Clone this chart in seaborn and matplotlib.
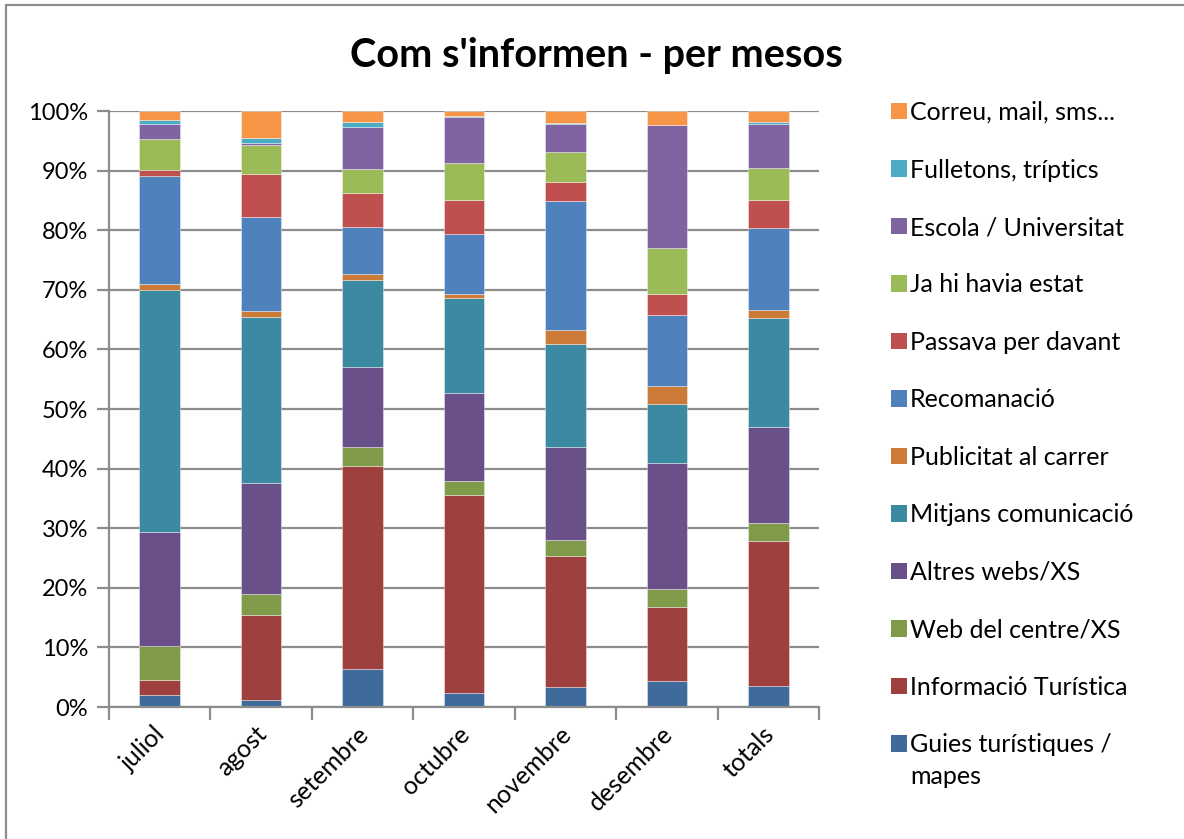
import numpy as np
import pandas as pd
import matplotlib
matplotlib.use("Agg")
import matplotlib.pyplot as plt
import matplotlib.transforms as mtransforms
import seaborn as sns
from matplotlib.patches import Rectangle, Patch
from matplotlib.ticker import FixedLocator, FuncFormatter

months = ["juliol", "agost", "setembre", "octubre", "novembre", "desembre", "totals"]

series_names = [
    "Guies turístiques /\nmapes",
    "Informació Turística",
    "Web del centre/XS",
    "Altres webs/XS",
    "Mitjans comunicació",
    "Publicitat al carrer",
    "Recomanació",
    "Passava per davant",
    "Ja hi havia estat",
    "Escola / Universitat",
    "Fulletons, tríptics",
    "Correu, mail, sms...",
]

guies = [2.0, 1.2, 6.3, 2.4, 3.3, 4.3, 3.5]
informacio = [2.6, 14.2, 34.2, 33.3, 22.1, 12.5, 24.4]
web_centre = [5.6, 3.5, 3.1, 2.3, 2.6, 3.0, 2.9]
altres_webs = [19.2, 18.6, 13.4, 14.8, 15.6, 21.1, 16.1]
mitjans = [40.6, 27.9, 14.6, 15.9, 17.4, 9.9, 18.3]
publicitat = [1.0, 0.9, 1.1, 0.8, 2.3, 3.0, 1.4]
recomanacio = [18.1, 15.9, 7.9, 10.0, 21.7, 11.9, 13.8]
passava = [1.1, 7.1, 5.6, 5.7, 3.2, 3.6, 4.6]
ja_hi_havia = [5.2, 4.9, 4.1, 6.3, 5.0, 7.7, 5.4]
escola = [2.6, 0.3, 7.0, 7.7, 4.7, 20.6, 7.3]
fulletons = [0.6, 0.9, 0.9, 0.2, 0.2, 0.0, 0.4]
correu = [1.5, 4.5, 1.8, 0.8, 1.95, 2.35, 1.85]

series_values = [guies, informacio, web_centre, altres_webs, mitjans, publicitat,
                 recomanacio, passava, ja_hi_havia, escola, fulletons, correu]

colors = ["#3F6A9C", "#9E403D", "#7F9A48", "#6A5088", "#3B8AA2", "#CB7A37",
          "#4F81BD", "#C0504D", "#9BBB59", "#8064A2", "#4BACC6", "#F79646"]

sns.set_theme(style="white")
plt.rcParams["font.family"] = ["Lato", "DejaVu Sans"]
plt.rcParams["text.color"] = "black"

W, H = 1184, 839
fig = plt.figure(figsize=(W / 100, H / 100), dpi=100)
ax = fig.add_axes([109 / W, 1 - 707 / H, (819 - 109) / W, (707 - 111) / H])

# normalise each column to 100%
arr = np.array(series_values, dtype=float)
arr = arr / arr.sum(axis=0) * 100.0

grid_c = "#8C8C8C"
ax.set_axisbelow(True)
ax.yaxis.grid(True, color=grid_c, linewidth=1.6)

bottom = np.zeros(len(months))
for name, vals, c in zip(series_names, arr, colors):
    df = pd.DataFrame({"mes": months, "valor": vals})
    sns.barplot(data=df, x="mes", y="valor", bottom=bottom, color=c, width=0.4,
                ax=ax, saturation=1, edgecolor=(1, 1, 1, 0.45), linewidth=0.6)
    bottom = bottom + vals

if ax.get_legend() is not None:
    ax.get_legend().remove()

ax.set_xlim(-0.5, len(months) - 0.5)
ax.set_ylim(0, 100)
ax.set_yticks(np.arange(0, 101, 10))
ax.yaxis.set_major_formatter(FuncFormatter(lambda v, p: f"{int(round(v))}%"))
ax.set_xlabel("")
ax.set_ylabel("")

for s in ["top", "right"]:
    ax.spines[s].set_visible(False)
for s in ["left", "bottom"]:
    ax.spines[s].set_color(grid_c)
    ax.spines[s].set_linewidth(1.6)

ax.tick_params(axis="y", which="major", direction="out", length=9, width=1.6,
               color=grid_c, labelsize=17, pad=6, left=True, labelcolor="black")
ax.tick_params(axis="x", which="major", length=0, labelsize=18, pad=11,
               labelcolor="black")
ax.xaxis.set_minor_locator(FixedLocator(np.arange(-0.5, len(months), 1.0)))
ax.tick_params(axis="x", which="minor", direction="out", length=9, width=1.6,
               color=grid_c, bottom=True)
shift = mtransforms.ScaledTranslation(-6 / 100, 0, fig.dpi_scale_trans)
for lab in ax.get_xticklabels():
    lab.set_rotation(45)
    lab.set_ha("right")
    lab.set_va("top")
    lab.set_rotation_mode("anchor")
    lab.set_transform(lab.get_transform() + shift)

# title
fig.text(596 / W, 1 - 55 / H, "Com s'informen - per mesos", ha="center", va="center",
         fontsize=28.5, fontweight="bold", color="black")

# legend (reverse order, top = last series)
handles = [Patch(facecolor=c, edgecolor="none") for c in colors][::-1]
labels = [n.split("\n")[0] for n in series_names][::-1]
leg = fig.legend(handles, labels, loc="upper left",
                 bbox_to_anchor=(881 / W, 1 - 91 / H), frameon=False,
                 fontsize=18, handlelength=0.64, handleheight=0.64,
                 handletextpad=0.12, labelspacing=1.38, borderaxespad=0)
for t in leg.get_texts():
    t.set_color("black")

# second line of the wrapped last legend label
fig.canvas.draw()
last_txt = leg.get_texts()[-1]
bb = last_txt.get_window_extent()
extra = series_names[0].split("\n")[1:]
for i, line in enumerate(extra):
    fig.text(bb.x0 / W, (bb.y0 - 32 * (i + 1) + bb.height / 2) / H, line,
             ha="left", va="center", fontsize=18, color="black")

# chart border
fig.patches.append(Rectangle((6 / W, -0.1), 1.2, 1 - 5 / H + 0.1,
                             transform=fig.transFigure, fill=False,
                             edgecolor="#8C8C8C", linewidth=1.6))

fig.savefig("out.png", dpi=100, facecolor="white")
